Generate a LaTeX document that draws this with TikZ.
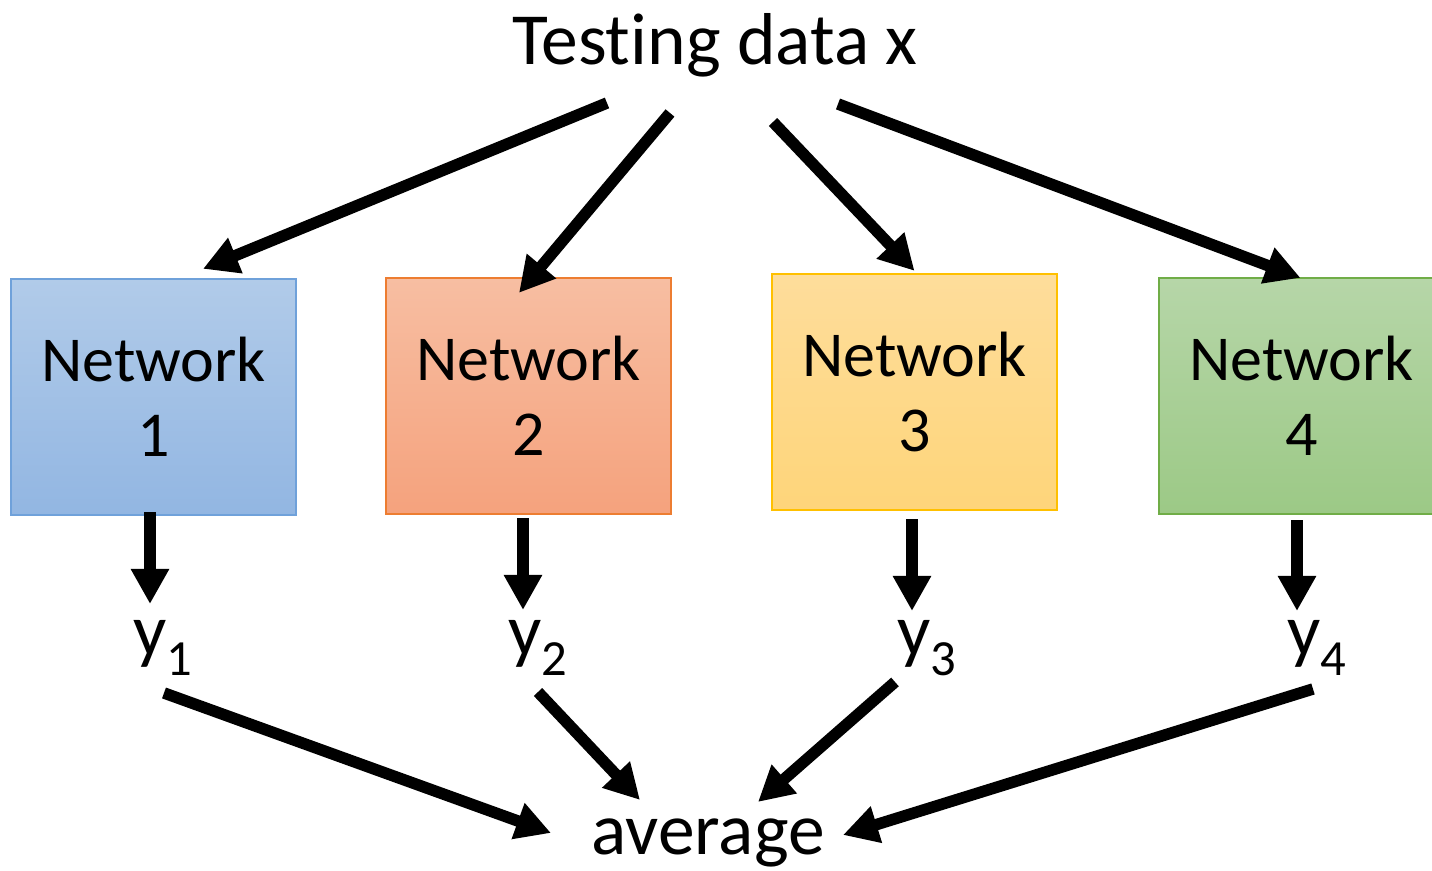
\documentclass[tikz,border=0pt]{standalone}
\usepackage{fontspec}
\setmainfont{Carlito}[RawFeature={-liga;-clig;-calt;-dlig}]
\usetikzlibrary{arrows.meta,calc}
\definecolor{blueT}{HTML}{B1CBE9}\definecolor{blueB}{HTML}{92B6E2}\definecolor{blueL}{HTML}{6FA1DA}
\definecolor{redT}{HTML}{F7BEA2}\definecolor{redB}{HTML}{F5A27D}\definecolor{redL}{HTML}{ED7D31}
\definecolor{yelT}{HTML}{FEDD9B}\definecolor{yelB}{HTML}{FED57A}\definecolor{yelL}{HTML}{FFC000}
\definecolor{grnT}{HTML}{B6D6A8}\definecolor{grnB}{HTML}{9CC986}\definecolor{grnL}{HTML}{70AD47}
\newcommand{\ylab}[1]{y\raisebox{-0.2cm}{\fontsize{14.4}{14.4}\selectfont #1}}
\begin{document}
\begin{tikzpicture}[x=0.01cm,y=-0.01cm,
    arr/.style={-{Triangle[length=0.35cm,width=0.36cm]},line width=0.115cm},
    netbox/.style={draw,line width=0.6pt,minimum width=2.84cm,minimum height=2.36cm,
        align=center,font=\fontsize{18.2}{21.3}\selectfont},
    big/.style={font=\fontsize{20.9}{24}\selectfont,inner sep=0pt}]
    \useasboundingbox (0,0) rectangle (1432,871);
    \node[big,anchor=base] (test) at (715,65) {Test\kern0pt ing data x};
    \node[netbox,top color=blueT,bottom color=blueB,draw=blueL] (net1) at (153.5,397) {Network\\1};
    \node[netbox,top color=redT,bottom color=redB,draw=redL] (net2) at (528.5,396) {Network\\2};
    \node[netbox,top color=yelT,bottom color=yelB,draw=yelL] (net3) at (914.5,392) {Network\\3};
    \node[netbox,top color=grnT,bottom color=grnB,draw=grnL] (net4) at (1301.5,396) {Network\\4};
    \node[big,anchor=base west] (y1) at (133,656) {\ylab{1}};
    \node[big,anchor=base west] (y2) at (508,656) {\ylab{2}};
    \node[big,anchor=base west] (y3) at (897,656) {\ylab{3}};
    \node[big,anchor=base west] (y4) at (1287,656) {\ylab{4}};
    \node[big,anchor=base] (avg) at (708,855) {average};
    % input to the networks
    \draw[arr] ($(test.base)+(-108,38)$) -- ($(net1.north)+(49.5,-9)$);
    \draw[arr] ($(test.base)+(-45,48)$) -- ($(net2.north)+(-9.5,16)$);
    \draw[arr] ($(test.base)+(58,57)$) -- ($(net3.north)+(0,-2)$);
    \draw[arr] ($(test.base)+(123,39)$) -- ($(net4.north)+(-1,1)$);
    % outputs
    \draw[arr] ($(net1.south)+(-3.5,-4)$) -- ($(y1.base west)+(17,-52)$);
    \draw[arr] ($(net2.south)+(-5.5,3)$) -- ($(y2.base west)+(15,-46)$);
    \draw[arr] ($(net3.south)+(-2.5,8)$) -- ($(y3.base west)+(15,-45)$);
    \draw[arr] ($(net4.south)+(-4.5,5)$) -- ($(y4.base west)+(10,-45)$);
    % averaging
    \draw[arr] ($(y1.base west)+(31,37)$) -- ($(avg.base)+(-157,-22)$);
    \draw[arr] ($(y2.base west)+(30,36)$) -- ($(avg.base)+(-68,-55)$);
    \draw[arr] ($(y3.base west)+(-2,26)$) -- ($(avg.base)+(50,-53)$);
    \draw[arr] ($(y4.base west)+(26,33)$) -- ($(avg.base)+(135,-20)$);
\end{tikzpicture}
\end{document}
